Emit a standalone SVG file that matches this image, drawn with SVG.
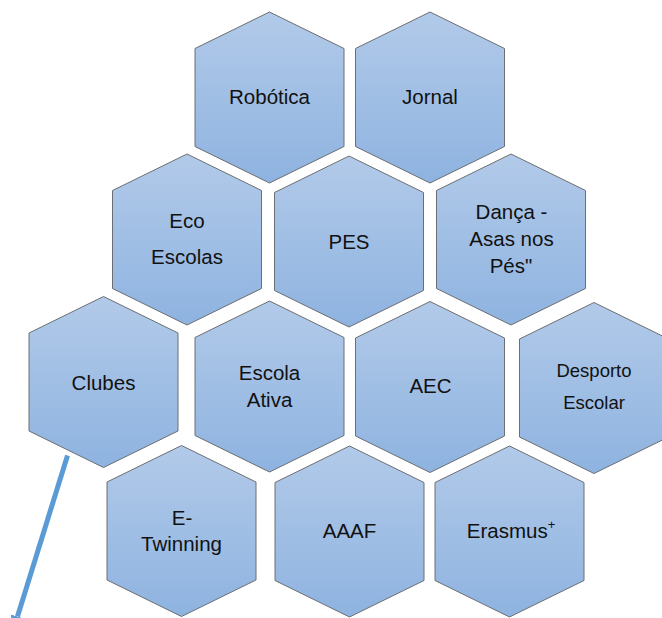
<svg xmlns="http://www.w3.org/2000/svg" xmlns:xlink="http://www.w3.org/1999/xlink" width="662" height="618" viewBox="0 0 662 618">
  <defs>
    <linearGradient id="hexFill" x1="0" y1="0" x2="0" y2="1">
      <stop offset="0" stop-color="#B2CAE9"/>
      <stop offset="1" stop-color="#8EB3E0"/>
    </linearGradient>
    <path id="hex" d="M0,-85.5 L74.5,-49 L74.5,49 L0,85.5 L-74.5,49 L-74.5,-49 Z"/>
    <marker id="arrowHead" viewBox="0 0 16 14" refX="0" refY="7" markerWidth="16" markerHeight="14" markerUnits="userSpaceOnUse" orient="auto">
      <path d="M0,0 L16,7 L0,14 Z" fill="#5B9BD5"/>
    </marker>
  </defs>
  <style>
    .hex { fill: url(#hexFill); stroke: #6B6E72; stroke-width: 1; }
    .lbl { font-family: "Liberation Sans", Arial, sans-serif; font-size: 20.5px; fill: #111; text-anchor: middle; }
    .sm { font-size: 18.5px; }
    .conn { stroke: #5B9BD5; stroke-width: 5; fill: none; }
  </style>
  <rect width="662" height="618" fill="#FFFFFF"/>

  <g id="nodes">
    <g id="robotica">
      <use xlink:href="#hex" href="#hex" class="hex" x="269.5" y="97.5"/>
      <text class="lbl" x="269.5" y="104">Robótica</text>
    </g>
    <g id="jornal">
      <use xlink:href="#hex" href="#hex" class="hex" x="430" y="97.5"/>
      <text class="lbl" x="430" y="104">Jornal</text>
    </g>
    <g id="eco-escolas">
      <use xlink:href="#hex" href="#hex" class="hex" x="187" y="239.5"/>
      <text class="lbl" x="187" y="228">Eco</text>
      <text class="lbl" x="187" y="264">Escolas</text>
    </g>
    <g id="pes">
      <use xlink:href="#hex" href="#hex" class="hex" x="349" y="241.5"/>
      <text class="lbl" x="349" y="249">PES</text>
    </g>
    <g id="danca">
      <use xlink:href="#hex" href="#hex" class="hex" x="511" y="239.5"/>
      <text class="lbl" x="511.5" y="219">Dança -</text>
      <text class="lbl" x="511.5" y="246">Asas nos</text>
      <text class="lbl" x="511" y="273">Pés"</text>
    </g>
    <g id="clubes">
      <use xlink:href="#hex" href="#hex" class="hex" x="103.5" y="382"/>
      <text class="lbl" x="103.5" y="390">Clubes</text>
    </g>
    <g id="escola-ativa">
      <use xlink:href="#hex" href="#hex" class="hex" x="269.5" y="386.5"/>
      <text class="lbl" x="269.5" y="380">Escola</text>
      <text class="lbl" x="269.5" y="407">Ativa</text>
    </g>
    <g id="aec">
      <use xlink:href="#hex" href="#hex" class="hex" x="430" y="387"/>
      <text class="lbl" x="430.5" y="393">AEC</text>
    </g>
    <g id="desporto-escolar">
      <use xlink:href="#hex" href="#hex" class="hex" x="594" y="388"/>
      <text class="lbl sm" x="594" y="377">Desporto</text>
      <text class="lbl sm" x="594" y="409">Escolar</text>
    </g>
    <g id="e-twinning">
      <use xlink:href="#hex" href="#hex" class="hex" x="181.5" y="531"/>
      <text class="lbl" x="182" y="525">E-</text>
      <text class="lbl" x="181.5" y="551">Twinning</text>
    </g>
    <g id="aaaf">
      <use xlink:href="#hex" href="#hex" class="hex" x="349.5" y="531.5"/>
      <text class="lbl" x="349.5" y="538">AAAF</text>
    </g>
    <g id="erasmus">
      <use xlink:href="#hex" href="#hex" class="hex" x="509.5" y="531.5"/>
      <text class="lbl" x="511" y="538">Erasmus<tspan font-size="13" dy="-9">+</tspan></text>
    </g>
  </g>

  <g id="connectors">
    <line class="conn" x1="67.5" y1="455.5" x2="17.5" y2="616.5" marker-end="url(#arrowHead)"/>
  </g>
</svg>
